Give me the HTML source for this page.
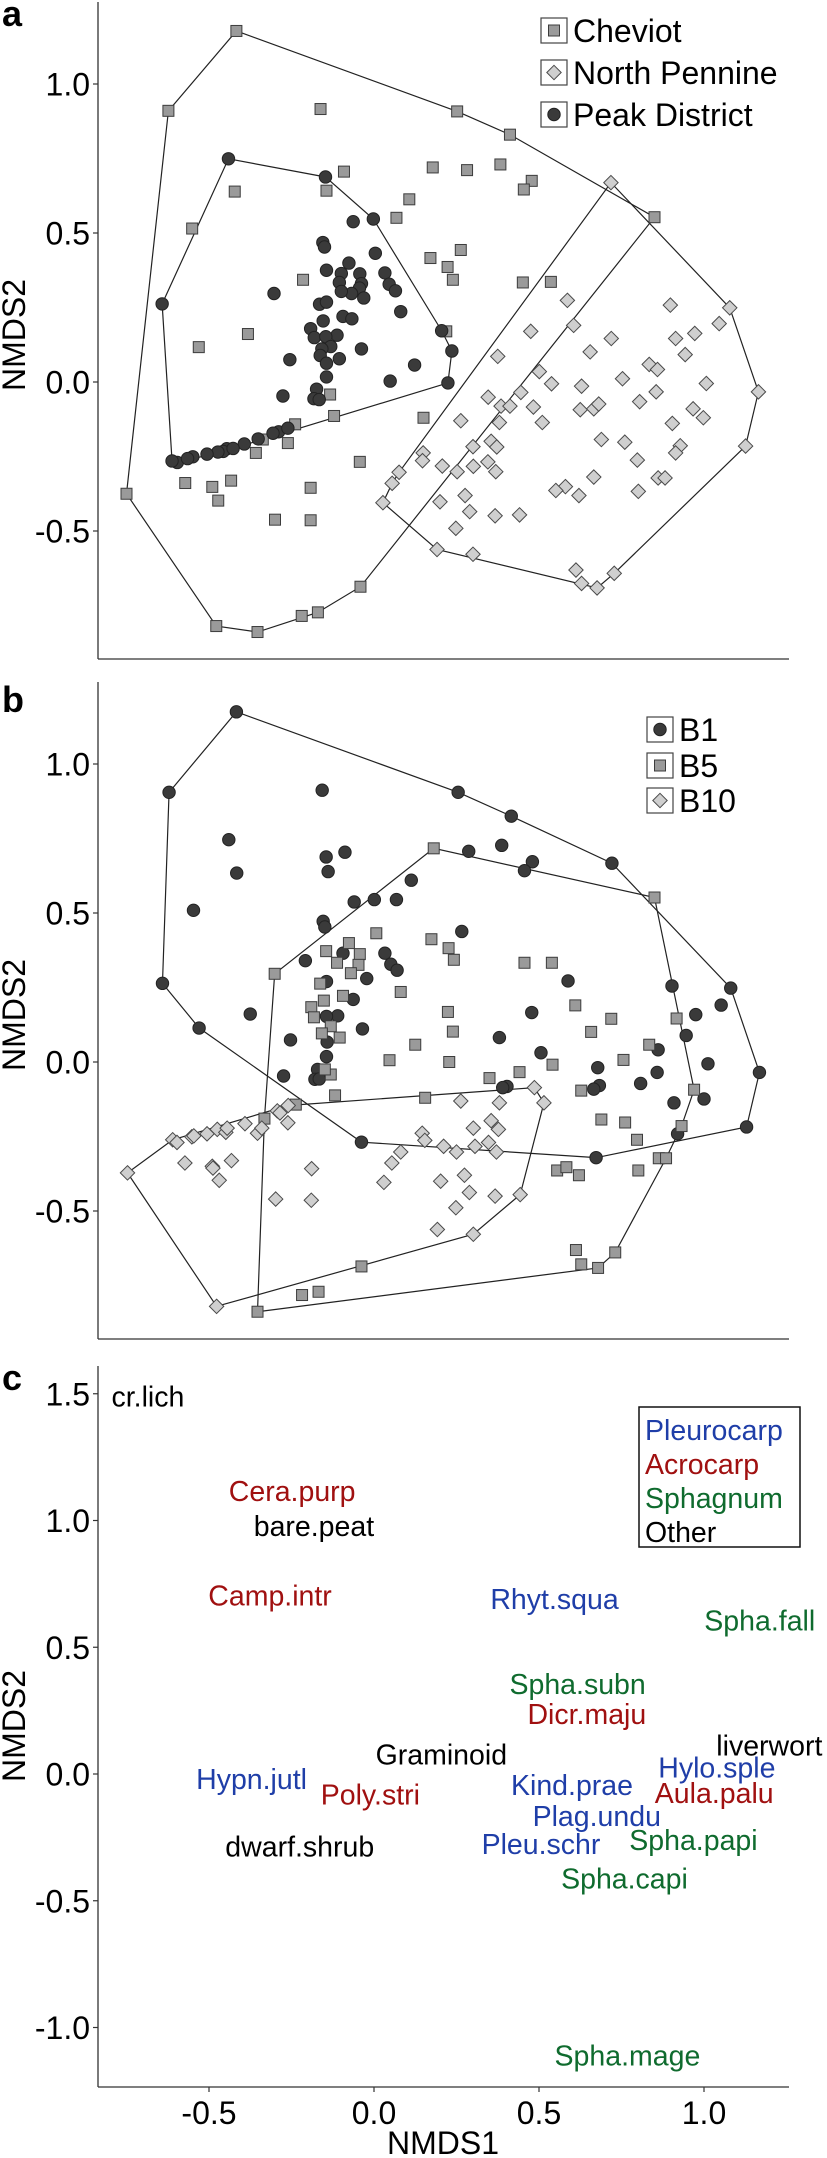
<!DOCTYPE html>
<html><head><meta charset="utf-8"><title>NMDS ordination</title>
<style>html,body{margin:0;padding:0;background:#fff}svg{display:block}text{font-family:"Liberation Sans",Arial,sans-serif}</style>
</head><body>
<svg id="chart" xmlns="http://www.w3.org/2000/svg" width="827" height="2158" viewBox="0 0 827 2158"></svg>
<script>
// ---------- Panel a data ----------
const cheviotX=[-0.417,0.252,0.412,0.850,-0.041,-0.170,-0.219,-0.353,-0.478,-0.750,-0.623,-0.162,-0.091,-0.144,-0.422,-0.551,0.178,0.282,0.383,0.478,0.454,0.107,0.068,0.263,0.171,0.223,0.239,0.451,0.536,-0.215,-0.382,-0.531,0.219,-0.133,-0.121,0.150,-0.239,-0.337,-0.261,-0.358,-0.043,-0.572,-0.490,-0.433,-0.472,-0.192,-0.300,-0.192];
const cheviotY=[1.178,0.908,0.830,0.553,-0.687,-0.773,-0.785,-0.839,-0.819,-0.375,0.910,0.916,0.706,0.642,0.639,0.515,0.720,0.711,0.730,0.675,0.646,0.613,0.551,0.443,0.416,0.386,0.343,0.334,0.336,0.343,0.161,0.117,0.170,-0.042,-0.114,-0.120,-0.142,-0.193,-0.205,-0.238,-0.268,-0.339,-0.352,-0.331,-0.398,-0.355,-0.462,-0.464];
const northPennineX=[0.718,1.078,1.165,1.126,0.728,0.676,0.629,0.612,0.300,0.191,0.027,0.076,0.586,0.898,1.046,0.605,0.475,0.719,0.914,0.972,0.655,0.943,0.375,0.834,0.859,0.501,0.753,1.007,0.538,0.629,0.445,0.855,0.346,0.805,0.385,0.412,0.483,0.625,0.666,0.681,0.967,0.998,0.263,0.510,0.380,0.904,0.689,0.760,0.355,0.300,0.928,0.914,0.149,0.147,0.207,0.345,0.301,0.372,0.252,0.369,0.798,0.861,0.882,0.666,0.580,0.551,0.621,0.801,0.276,0.200,0.290,0.367,0.441,0.248,0.055];
const northPennineY=[0.669,0.249,-0.033,-0.215,-0.642,-0.691,-0.676,-0.631,-0.578,-0.562,-0.405,-0.303,0.274,0.258,0.196,0.190,0.170,0.146,0.146,0.163,0.101,0.092,0.086,0.059,0.042,0.035,0.011,-0.005,-0.006,-0.014,-0.035,-0.033,-0.051,-0.066,-0.081,-0.081,-0.084,-0.093,-0.090,-0.074,-0.090,-0.120,-0.130,-0.136,-0.136,-0.139,-0.193,-0.202,-0.199,-0.217,-0.214,-0.238,-0.238,-0.264,-0.282,-0.268,-0.283,-0.218,-0.301,-0.301,-0.262,-0.322,-0.322,-0.319,-0.351,-0.364,-0.381,-0.367,-0.381,-0.402,-0.435,-0.449,-0.446,-0.491,-0.340];
const peakX=[-0.441,-0.147,-0.002,0.205,0.236,0.224,-0.596,-0.612,-0.642,-0.063,-0.155,-0.150,0.004,-0.076,-0.144,-0.099,-0.043,0.033,-0.105,-0.038,-0.044,0.046,0.065,-0.068,-0.099,-0.031,-0.303,-0.165,-0.144,0.081,-0.094,-0.067,-0.154,-0.192,-0.181,-0.112,-0.146,-0.038,-0.131,-0.158,-0.163,0.123,-0.255,-0.144,-0.105,-0.144,0.049,-0.174,-0.276,-0.182,-0.166,-0.289,-0.261,-0.306,-0.393,-0.446,-0.457,-0.473,-0.506,-0.549,-0.565,-0.351,-0.427];
const peakY=[0.749,0.688,0.547,0.172,0.104,-0.003,-0.270,-0.265,0.262,0.538,0.468,0.453,0.432,0.399,0.375,0.364,0.363,0.366,0.334,0.330,0.315,0.328,0.306,0.297,0.304,0.282,0.297,0.261,0.268,0.236,0.220,0.212,0.205,0.179,0.149,0.157,0.152,0.111,0.119,0.111,0.089,0.057,0.075,0.063,0.078,0.017,0.003,-0.024,-0.047,-0.056,-0.059,-0.167,-0.155,-0.172,-0.208,-0.224,-0.233,-0.235,-0.242,-0.251,-0.257,-0.191,-0.223];
// ---------- Panel b data ----------
const b1X=[-0.417,0.255,0.416,0.721,1.081,1.168,1.129,0.673,-0.038,-0.530,-0.641,-0.621,-0.157,-0.440,-0.416,-0.547,-0.145,-0.139,-0.088,0.287,0.387,0.480,0.456,0.113,-0.060,0.001,0.068,-0.154,-0.149,0.266,-0.208,-0.094,0.033,0.051,0.070,-0.144,-0.022,-0.063,-0.375,-0.110,-0.144,-0.035,-0.253,-0.142,0.380,0.478,0.588,0.903,0.975,1.052,0.946,0.861,0.858,1.012,0.678,0.506,0.808,0.683,0.666,0.403,0.390,-0.274,-0.171,-0.179,-0.166,-0.144,0.909,1.000,0.920];
const b1Y=[1.175,0.905,0.825,0.667,0.248,-0.035,-0.218,-0.321,-0.269,0.114,0.264,0.905,0.912,0.746,0.634,0.509,0.688,0.639,0.704,0.707,0.727,0.672,0.642,0.610,0.537,0.545,0.545,0.472,0.453,0.438,0.340,0.365,0.365,0.328,0.308,0.270,0.280,0.210,0.161,0.155,0.153,0.111,0.074,0.067,0.082,0.166,0.272,0.255,0.159,0.191,0.089,0.041,-0.035,-0.006,-0.019,0.031,-0.072,-0.079,-0.091,-0.082,-0.086,-0.047,-0.025,-0.058,-0.057,0.018,-0.137,-0.124,-0.241];
const b5X=[0.181,0.850,0.917,0.970,0.731,0.679,-0.353,-0.301,0.932,0.007,0.174,0.226,0.242,-0.076,-0.145,-0.043,-0.112,-0.047,-0.070,0.456,0.539,0.081,-0.163,-0.152,-0.094,-0.190,-0.182,-0.131,-0.158,-0.104,0.224,0.239,0.125,0.047,0.228,0.610,0.719,0.658,0.834,0.756,0.541,0.441,0.350,0.628,-0.131,-0.118,0.155,-0.237,-0.332,0.689,0.761,0.797,0.863,0.885,0.555,0.583,0.621,0.801,0.612,0.628,-0.038,-0.218,-0.168,-0.149];
const b5Y=[0.717,0.552,0.146,-0.093,-0.639,-0.691,-0.838,0.296,-0.215,0.432,0.412,0.382,0.343,0.399,0.372,0.362,0.333,0.326,0.298,0.333,0.333,0.235,0.263,0.206,0.222,0.184,0.150,0.120,0.096,0.082,0.168,0.102,0.058,0.006,0.000,0.190,0.145,0.101,0.058,0.007,-0.009,-0.034,-0.054,-0.096,-0.042,-0.112,-0.120,-0.143,-0.190,-0.193,-0.203,-0.261,-0.323,-0.323,-0.364,-0.353,-0.380,-0.364,-0.631,-0.679,-0.686,-0.782,-0.771,-0.025];
const b10X=[-0.747,-0.610,-0.260,0.486,0.515,0.443,0.301,-0.477,-0.597,-0.552,-0.546,-0.506,-0.475,-0.449,-0.445,-0.391,-0.353,-0.340,-0.293,-0.285,-0.261,-0.573,-0.490,-0.488,-0.469,-0.432,-0.298,-0.189,-0.190,0.030,0.054,0.081,0.146,0.154,0.211,0.250,0.263,0.301,0.306,0.355,0.377,0.347,0.371,0.380,0.202,0.274,0.289,0.248,0.367,0.192];
const b10Y=[-0.372,-0.261,-0.146,-0.086,-0.137,-0.445,-0.578,-0.820,-0.270,-0.251,-0.248,-0.241,-0.226,-0.236,-0.222,-0.207,-0.239,-0.222,-0.164,-0.171,-0.204,-0.339,-0.350,-0.356,-0.397,-0.331,-0.460,-0.358,-0.464,-0.404,-0.339,-0.302,-0.239,-0.263,-0.283,-0.302,-0.131,-0.222,-0.283,-0.197,-0.226,-0.270,-0.302,-0.137,-0.400,-0.380,-0.438,-0.489,-0.450,-0.562];
// ---------- Panel c data ----------
const speciesNames=["cr.lich","Cera.purp","bare.peat","Camp.intr","Rhyt.squa","Spha.fall","Spha.subn","Dicr.maju","liverwort","Graminoid","Hylo.sple","Hypn.jutl","Kind.prae","Poly.stri","Aula.palu","Plag.undu","Pleu.schr","Spha.papi","dwarf.shrub","Spha.capi","Spha.mage"];
const speciesX=[-0.685,-0.248,-0.182,-0.315,0.547,1.169,0.617,0.645,1.198,0.204,1.039,-0.371,0.600,-0.011,1.031,0.675,0.506,0.968,-0.225,0.759,0.768];
const speciesY=[1.490,1.117,0.978,0.704,0.690,0.606,0.356,0.237,0.113,0.076,0.026,-0.020,-0.044,-0.080,-0.074,-0.165,-0.276,-0.260,-0.286,-0.412,-1.111];
const speciesGroup=["Other","Acrocarp","Other","Acrocarp","Pleurocarp","Sphagnum","Sphagnum","Acrocarp","Other","Other","Pleurocarp","Pleurocarp","Pleurocarp","Acrocarp","Acrocarp","Pleurocarp","Pleurocarp","Sphagnum","Other","Sphagnum","Sphagnum"];
const legendGroups=["Pleurocarp","Acrocarp","Sphagnum","Other"];
const ticksAB=[-0.5,0.0,0.5,1.0];
const ticksAB_labels=["-0.5","0.0","0.5","1.0"];
const ticksCY=[-1.0,-0.5,0.0,0.5,1.0,1.5];
const ticksCY_labels=["-1.0","-0.5","0.0","0.5","1.0","1.5"];
const ticksCX=[-0.5,0.0,0.5,1.0];
const ticksCX_labels=["-0.5","0.0","0.5","1.0"];

const NS="http://www.w3.org/2000/svg";
const svg=document.getElementById('chart');
const groupColor={Pleurocarp:"#1f3ea8",Acrocarp:"#a01010",Sphagnum:"#0f6b2e",Other:"#000000"};
const X0=98,X1=789;
function xs(v){return 374+330*v;}
function ysA(v){return 382-298*v;}
function ysB(v){return 1062-298*v;}
function ysC(v){return 1774-253.5*v;}
function mk(tag,attrs,parent){const e=document.createElementNS(NS,tag);for(const k in attrs)e.setAttribute(k,attrs[k]);(parent||svg).appendChild(e);return e;}
function txt(s,attrs,parent){const e=mk('text',attrs,parent);e.textContent=s;return e;}

function hull(px,py){
  const pts=px.map((x,i)=>[x,py[i]]).sort((a,b)=>a[0]-b[0]||a[1]-b[1]);
  const cr=(o,a,b)=>(a[0]-o[0])*(b[1]-o[1])-(a[1]-o[1])*(b[0]-o[0]);
  const lo=[],up=[];
  for(const p of pts){while(lo.length>=2&&cr(lo[lo.length-2],lo[lo.length-1],p)<=0)lo.pop();lo.push(p);}
  for(let i=pts.length-1;i>=0;i--){const p=pts[i];while(up.length>=2&&cr(up[up.length-2],up[up.length-1],p)<=0)up.pop();up.push(p);}
  up.pop();lo.pop();return lo.concat(up);
}
function marker(shape,cx,cy,parent){
  let e;
  if(shape==='square'){e=mk('rect',{x:cx-5.5,y:cy-5.5,width:11,height:11,fill:'#9a9a9a',stroke:'#3c3c3c','stroke-width':1},parent);}
  else if(shape==='circle'){e=mk('circle',{cx:cx,cy:cy,r:6.2,fill:'#3a3a3a',stroke:'#222','stroke-width':1},parent);}
  else {e=mk('polygon',{points:`${cx},${cy-7.2} ${cx+7.2},${cy} ${cx},${cy+7.2} ${cx-7.2},${cy}`,fill:'#cfcfcf',stroke:'#4a4a4a','stroke-width':1},parent);}
  return e;
}
function axes(top,bottom,ys,ticks,labels,name){
  const g=mk('g',{});
  
  
  mk('line',{x1:X0,y1:top,x2:X0,y2:bottom,stroke:'#333','stroke-width':1.3},g);
  mk('line',{x1:X0,y1:bottom,x2:X1,y2:bottom,stroke:'#333','stroke-width':1.3},g);
  ticks.forEach((t,i)=>{
    const y=ys(t);
    mk('line',{x1:X0-5,y1:y,x2:X0,y2:y,stroke:'#333','stroke-width':1.2},g);
    const tl=txt(labels[i],{x:X0-8,y:y+11.5,'text-anchor':'end','font-size':32,fill:'#000'},g);
    
    
  });
}
function panelPoints(groups,ys,name){
  const gh=mk('g',{});
  
  
  groups.forEach(gr=>{
    const h=hull(gr.x,gr.y);
    const p=mk('polygon',{points:h.map(q=>xs(q[0])+','+ys(q[1])).join(' '),fill:'none',stroke:'#222','stroke-width':1.2},gh);
    
    
  });
  groups.forEach(gr=>{
    const g=mk('g',{});
    
    
    gr.x.forEach((v,i)=>{
      const m=marker(gr.shape,xs(v),ys(gr.y[i]),g);
      
      
    });
  });
}
function legend(items,x,rowsTop,name){
  const g=mk('g',{});
  
  
  items.forEach((it,i)=>{
    const top=rowsTop[i];
    mk('rect',{x:x,y:top,width:26,height:25,fill:'#fff',stroke:'#444','stroke-width':1.2},g);
    marker(it.shape,x+13,top+12.5,g);
    const t=txt(it.label,{x:x+32,y:top+24,'font-size':32,fill:'#000'},g);
    
    
  });
}
function ytitle(cy,name){
  const t=txt('NMDS2',{x:0,y:0,transform:`translate(25,${cy}) rotate(-90)`,'text-anchor':'middle','font-size':32,fill:'#000'});
  
  
}
function plabel(s,y){
  const t=txt(s,{x:2,y:y,'font-size':36,'font-weight':'bold',fill:'#000'});
  
  
}

// Panel a
plabel('a',26);
axes(2,659,ysA,ticksAB,ticksAB_labels,'panel-a');
ytitle(335,'panel-a');
panelPoints([
  {name:'cheviot',shape:'square',x:cheviotX,y:cheviotY},
  {name:'north-pennine',shape:'diamond',x:northPennineX,y:northPennineY},
  {name:'peak-district',shape:'circle',x:peakX,y:peakY}
],ysA,'panel-a');
legend([{shape:'square',label:'Cheviot'},{shape:'diamond',label:'North Pennine'},{shape:'circle',label:'Peak District'}],541,[18,60,102],'panel-a');

// Panel b
plabel('b',712);
axes(682,1339,ysB,ticksAB,ticksAB_labels,'panel-b');
ytitle(1015,'panel-b');
panelPoints([
  {name:'b1',shape:'circle',x:b1X,y:b1Y},
  {name:'b5',shape:'square',x:b5X,y:b5Y},
  {name:'b10',shape:'diamond',x:b10X,y:b10Y}
],ysB,'panel-b');
legend([{shape:'circle',label:'B1'},{shape:'square',label:'B5'},{shape:'diamond',label:'B10'}],647,[717,753,788],'panel-b');

// Panel c
plabel('c',1390);
axes(1366,2087,ysC,ticksCY,ticksCY_labels,'panel-c');
ytitle(1726,'panel-c');
ticksCX.forEach((t,i)=>{
  const x=xs(t);
  mk('line',{x1:x,y1:2087,x2:x,y2:2092,stroke:'#333','stroke-width':1.2});
  const tl=txt(ticksCX_labels[i],{x:x,y:2124,'text-anchor':'middle','font-size':32,fill:'#000'});
  
  
});
const xt=txt('NMDS1',{x:443,y:2154,'text-anchor':'middle','font-size':32,fill:'#000'});


const sg=mk('g',{});


speciesNames.forEach((s,i)=>{
  const t=txt(s,{x:xs(speciesX[i]),y:ysC(speciesY[i])+10,'text-anchor':'middle','font-size':28.5,fill:groupColor[speciesGroup[i]]},sg);
  
  
});
const lg=mk('g',{});


mk('rect',{x:639,y:1407,width:161,height:140,fill:'#fff',stroke:'#111','stroke-width':1.5},lg);
legendGroups.forEach((gname,i)=>{
  const t=txt(gname,{x:645,y:1440+i*34,'font-size':28.5,fill:groupColor[gname]},lg);
  
  
});
</script>
</body></html>
